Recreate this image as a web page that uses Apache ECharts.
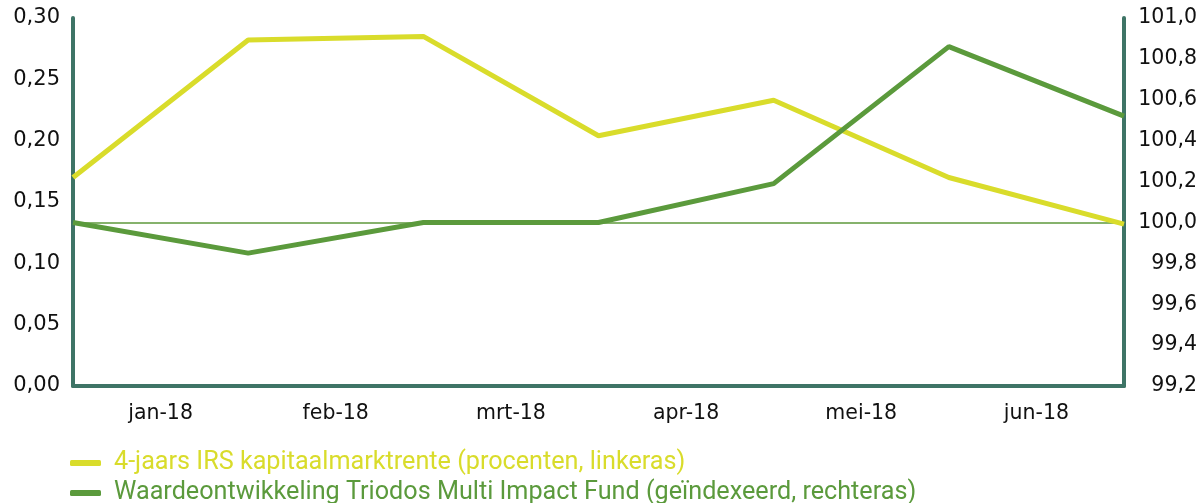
<!DOCTYPE html>
<html>
<head>
<meta charset="utf-8">
<script src="https://cdn.jsdelivr.net/npm/echarts@6/dist/echarts.min.js"></script>
<style>
html,body{margin:0;padding:0;background:#fff;}
#chart{width:1202px;height:503px;}
</style>
</head>
<body>
<div id="chart"></div>
<script>
// Data
const pointDates = ['dec-17', 'jan-18', 'feb-18', 'mrt-18', 'apr-18', 'mei-18', 'jun-18'];
const monthLabels = ['jan-18', 'feb-18', 'mrt-18', 'apr-18', 'mei-18', 'jun-18'];
const irsName = '4-jaars IRS kapitaalmarktrente (procenten, linkeras)';
const fundName = 'Waardeontwikkeling Triodos Multi Impact Fund (geïndexeerd, rechteras)';
const irsValues = [0.170, 0.282, 0.285, 0.204, 0.233, 0.170, 0.132];
const fundValues = [100.00, 99.85, 100.00, 100.00, 100.19, 100.86, 100.52];
const baseLine = 100.0;

const axisColor = '#3e7466';
const yellow = '#d9dc2b';
const green = '#5b9a3c';
const labelFont = 'DejaVu Sans';

function legendFor(name, color, top) {
  return {
    orient: 'vertical',
    left: 70,
    top: top,
    padding: 0,
    icon: 'roundRect',
    itemWidth: 31,
    itemHeight: 6,
    selectedMode: false,
    textStyle: { fontFamily: 'Roboto', fontSize: 25.2, lineHeight: 28, padding: [0, 0, 0, 8], color: color },
    data: [{ name: name, itemStyle: { color: color } }]
  };
}

const chart = echarts.init(document.getElementById('chart'));
chart.setOption({
  animation: false,
  backgroundColor: '#ffffff',
  grid: { left: 73, right: 78, top: 18, bottom: 117, containLabel: false },
  legend: [
    legendFor(irsName, yellow, 449),
    legendFor(fundName, green, 479)
  ],
  xAxis: [
    {
      type: 'category',
      data: pointDates,
      boundaryGap: false,
      axisLine: { show: true, lineStyle: { color: axisColor, width: 4, cap: 'round' } },
      axisTick: { show: false },
      axisLabel: { show: false },
      splitLine: { show: false }
    },
    {
      type: 'category',
      data: monthLabels,
      position: 'bottom',
      boundaryGap: true,
      axisLine: { show: false },
      axisTick: { show: false },
      axisLabel: { show: true, color: '#111', fontFamily: labelFont, fontSize: 20.5, margin: 17 },
      splitLine: { show: false }
    }
  ],
  yAxis: [
    {
      type: 'value',
      min: 0, max: 0.30, interval: 0.05,
      position: 'left',
      axisLine: { show: true, lineStyle: { color: axisColor, width: 4, cap: 'round' } },
      axisTick: { show: false },
      splitLine: { show: false },
      axisLabel: {
        color: '#111', fontFamily: labelFont, fontSize: 21, margin: 13,
        formatter: v => v.toFixed(2).replace('.', ',')
      }
    },
    {
      type: 'value',
      min: 99.2, max: 101.0, interval: 0.2,
      position: 'right',
      axisLine: { show: true, lineStyle: { color: axisColor, width: 4, cap: 'round' } },
      axisTick: { show: false },
      splitLine: { show: false },
      axisLabel: {
        color: '#111', fontFamily: labelFont, fontSize: 20.5, margin: 73, align: 'right',
        formatter: v => v.toFixed(1).replace('.', ',')
      }
    }
  ],
  series: [
    {
      name: irsName,
      type: 'line',
      xAxisIndex: 0,
      yAxisIndex: 0,
      data: irsValues,
      symbol: 'none',
      lineStyle: { color: yellow, width: 5 },
      itemStyle: { color: yellow },
      z: 3
    },
    {
      name: fundName,
      type: 'line',
      xAxisIndex: 0,
      yAxisIndex: 1,
      data: fundValues,
      symbol: 'none',
      lineStyle: { color: green, width: 5 },
      itemStyle: { color: green },
      z: 4,
      markLine: {
        silent: true,
        symbol: 'none',
        label: { show: false },
        lineStyle: { color: '#86b26c', width: 2, type: 'solid' },
        data: [{ yAxis: baseLine }],
        z: 2
      }
    }
  ]
});
</script>
</body>
</html>
